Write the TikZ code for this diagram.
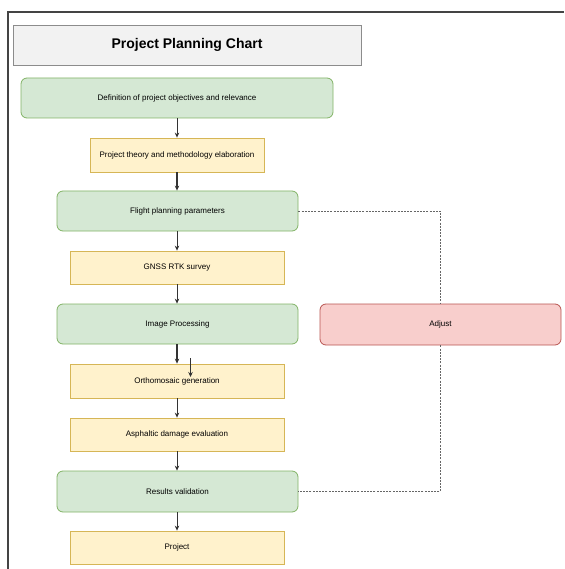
\documentclass[tikz,border=0pt]{standalone}
\usepackage{fontspec}
\setmainfont{Liberation Sans}
\usetikzlibrary{arrows.meta}
\definecolor{gfill}{HTML}{D5E8D4}
\definecolor{gline}{HTML}{82B366}
\definecolor{yfill}{HTML}{FFF2CC}
\definecolor{yline}{HTML}{D6B656}
\definecolor{rfill}{HTML}{F8CECC}
\definecolor{rline}{HTML}{B85450}
\definecolor{tfill}{HTML}{F2F2F2}
\definecolor{tline}{HTML}{8C8C8C}
\definecolor{arr}{HTML}{333333}
\definecolor{frame}{HTML}{444444}
\tikzset{
  base/.style={draw, line width=0.8pt, inner sep=0pt, font=\fontsize{8}{9.6}\selectfont, text=black},
  greenbox/.style={base, fill=gfill, draw=gline, rounded corners=6pt},
  yellowbox/.style={base, fill=yfill, draw=yline},
  redbox/.style={base, fill=rfill, draw=rline, rounded corners=6pt},
  titlebox/.style={base, fill=tfill, draw=tline, font=\fontsize{14}{16}\selectfont\bfseries},
  flow/.style={draw=arr, line width=0.8pt, -{Stealth[length=5pt,width=4.5pt]}},
  flowbold/.style={flow, line width=1.3pt},
  fb/.style={draw=black!60, line width=0.7pt, dash pattern=on 2pt off 1.2pt},
}
\begin{document}
\begin{tikzpicture}[x=1pt,y=-1pt]
\useasboundingbox (0,0) rectangle (564,569);
\draw[frame, line width=1.2pt] (8,569) -- (8,12) -- (564,12);

\node[titlebox, minimum width=348pt, minimum height=40pt] (title) at (187,45) {Project Planning Chart};
\node[greenbox, minimum width=312pt, minimum height=40pt] (def) at (177,98) {Definition of project objectives and relevance};
\node[yellowbox, minimum width=174pt, minimum height=34pt] (theory) at (177,155) {Project theory and methodology elaboration};
\node[greenbox, minimum width=241pt, minimum height=40pt] (flight) at (177.5,211) {Flight planning parameters};
\node[yellowbox, minimum width=214pt, minimum height=33pt] (gnss) at (177,267.5) {GNSS RTK survey};
\node[greenbox, minimum width=241pt, minimum height=40pt] (image) at (177.5,324) {Image Processing};
\node[yellowbox, minimum width=214pt, minimum height=34pt] (ortho) at (177,381) {Orthomosaic generation};
\node[yellowbox, minimum width=214pt, minimum height=33pt] (asph) at (177,434.5) {Asphaltic damage evaluation};
\node[greenbox, minimum width=241pt, minimum height=41pt] (results) at (177.5,491.5) {Results validation};
\node[yellowbox, minimum width=214pt, minimum height=33pt] (project) at (177,547.5) {Project};
\node[redbox, minimum width=241pt, minimum height=41pt] (adjust) at (440.5,324.5) {Adjust};

\draw[flow] (def.south -| theory.north) -- (theory.north);
\draw[flowbold] (theory.south) -- (flight.north -| theory.south);
\draw[flow] (flight.south -| gnss.north) -- (gnss.north);
\draw[flow] (gnss.south) -- (image.north -| gnss.south);
\draw[flowbold] (image.south -| ortho.north) -- (ortho.north);
\coordinate (xs) at (190.5,358);
\coordinate (xe) at (190.5,377);
\draw[flow] (xs) -- (xe);
\draw[flow] (ortho.south) -- (asph.north);
\draw[flow] (asph.south) -- (results.north -| asph.south);
\draw[flow] (results.south -| project.north) -- (project.north);

\draw[fb] (flight.east) -- (adjust.north |- flight.east) -- (adjust.north);
\draw[fb] (adjust.south) -- (adjust.south |- results.east) -- (results.east);
\end{tikzpicture}
\end{document}
